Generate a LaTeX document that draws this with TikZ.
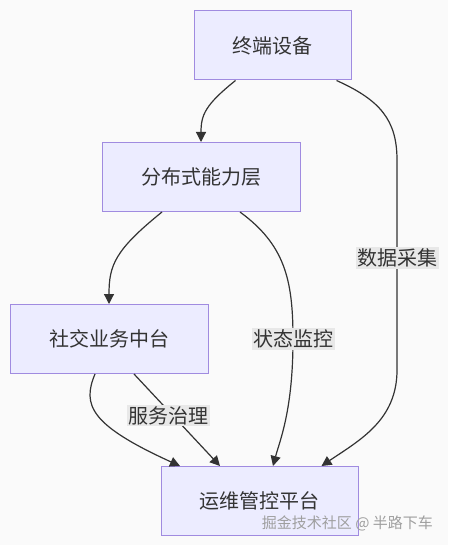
\documentclass[tikz,border=0pt]{standalone}
\usepackage{fontspec}
\setmainfont{Noto Sans CJK SC}
\usepackage{tikz}
\usetikzlibrary{arrows.meta,positioning}
\definecolor{boxfill}{HTML}{ECECFF}
\definecolor{boxline}{HTML}{A08BE0}
\definecolor{ink}{HTML}{333333}
\definecolor{lblfill}{HTML}{E8E8E8}
\definecolor{bgcol}{HTML}{FAFAFA}
\tikzset{
  box/.style={draw=boxline, fill=boxfill, line width=1pt, minimum height=69pt,
              inner sep=0pt, text=ink, font=\fontsize{20}{24}\selectfont},
  lbl/.style={fill=lblfill, inner sep=1.5pt, text=ink, font=\fontsize{20}{24}\selectfont},
  link/.style={draw=ink, line width=1.2pt, -{Triangle[length=10pt,width=10pt]}}
}
\begin{document}
\begin{tikzpicture}[x=1pt, y=-1pt]
      \fill[bgcol] (0, 0) rectangle (448, 545);
      \useasboundingbox (0, 0) rectangle (448, 545);
      \node (dev) [box, minimum width=157pt] at (272.5, 45.5) {终端设备};
      \node (cap) [box, minimum width=198pt] at (201, 177) {分布式能力层};
      \node (soc) [box, minimum width=198pt] at (109, 339) {社交业务中台};
      \node (ops) [box, minimum width=197pt] at (259.5, 501) {运维管控平台};
      % edges
      \draw[link] ([xshift=-37pt]dev.south) .. controls (205, 105) and (201, 115) .. (cap.north);
      \draw[link] ([xshift=64pt]dev.south) .. controls (380, 100) and (397, 120) .. (397, 160)
                  -- node (collect) [lbl, pos=.467] {数据采集} (397, 370)
                  .. controls (397, 420) and (360, 440) .. ([xshift=62pt]ops.north);
      \draw[link] ([xshift=-39pt]cap.south) .. controls (115, 250) and (109, 265) .. (soc.north);
      \draw[link] ([xshift=39pt]cap.south) .. controls (285, 245) and (293, 280) .. (293, 339)
                  node (monitor) [lbl] {状态监控}
                  .. controls (293, 410) and (280, 440) .. ([xshift=13.5pt]ops.north);
      \draw[link] ([xshift=-14pt]soc.south) .. controls (82, 405) and (90, 425) .. ([xshift=-79.5pt]ops.north);
      \draw[link] ([xshift=25pt]soc.south) -- node (govern) [lbl, pos=.45, xshift=-4pt] {服务治理} ([xshift=-39.5pt]ops.north);
      \node (mark) [anchor=east, text=gray!75, font=\fontsize{15}{18}\selectfont, inner sep=0pt] at (433, 523) {掘金技术社区 @ 半路下车};
\end{tikzpicture}
\end{document}
